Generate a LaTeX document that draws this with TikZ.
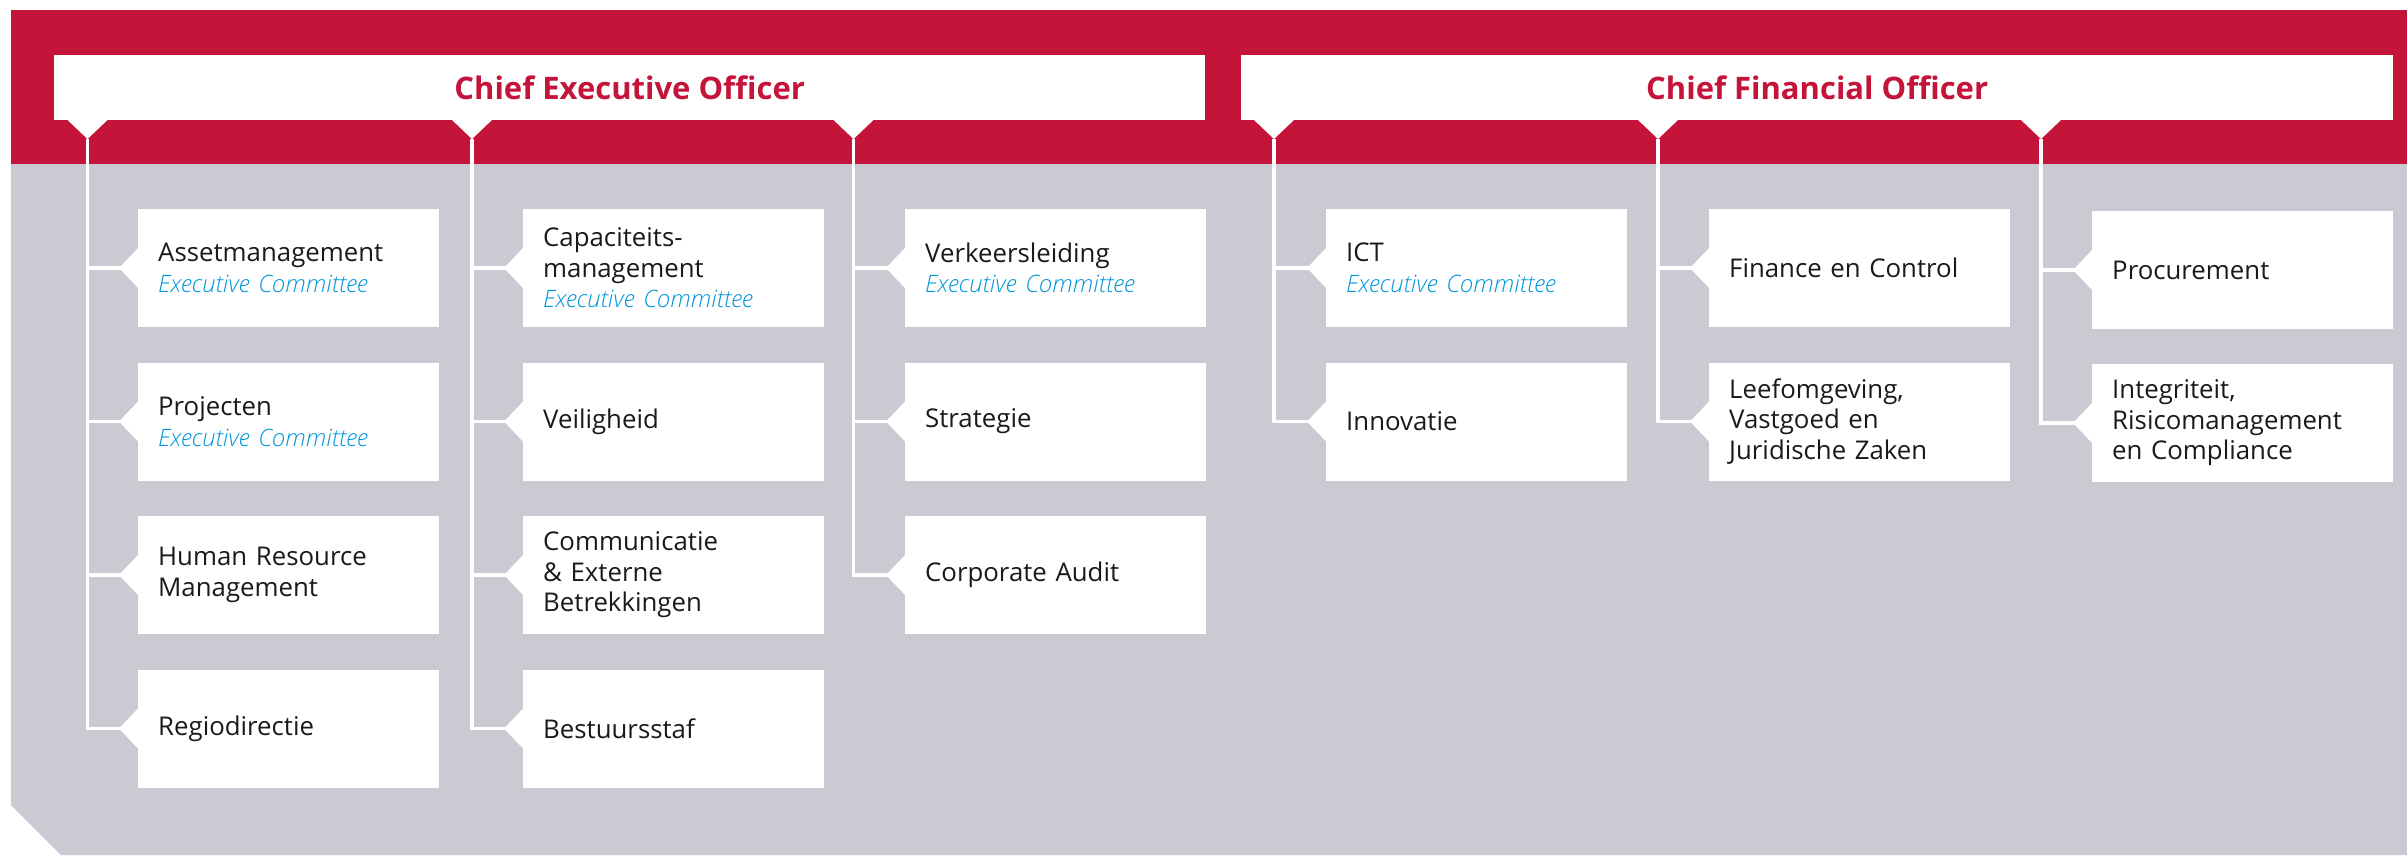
\documentclass[tikz,border=0pt]{standalone}
\usepackage{fontspec}
\setmainfont{Open Sans}
\newfontfamily\eclightfont{Open Sans}[UprightFont={* Light Italic}]
\definecolor{rwsred}{RGB}{197,20,58}
\definecolor{rwsgray}{RGB}{202,202,210}
\definecolor{ecblue}{RGB}{0,150,220}
\definecolor{txtc}{RGB}{26,26,26}
\newcommand\ecline{{\color{ecblue}\eclightfont\fontsize{24}{30.5}\selectfont Executive Committee}}
\tikzset{
  unitbox/.style={fill=white, draw=none, anchor=west, minimum width=301pt, minimum height=118pt,
    text width=261pt, inner xsep=20pt, inner ysep=0pt, align=left,
    font=\fontsize{25.8}{30.5}\selectfont, text=txtc},
  hdr/.style={fill=white, draw=none, anchor=north west, minimum height=65pt, inner sep=0pt,
    font=\fontsize{31}{36}\selectfont\bfseries, text=rwsred},
  conn/.style={draw=white, line width=3.2pt},
  notchfill/.style={fill=white, draw=none}
}
\begin{document}
\begin{tikzpicture}[x=1pt,y=-1pt]
\useasboundingbox (0,0) rectangle (2407,855);
% background bands
\fill[rwsred] (11,10) rectangle (2407,164.5);
\fill[rwsgray] (11,164) -- (2407,164) -- (2407,855) -- (61,855) -- (11,805) -- cycle;
% header boxes
\node[hdr, minimum width=1151pt] (ceo) at (54,55) {Chief Executive Officer};
\node[hdr, minimum width=1152pt] (cfo) at (1241,55) {Chief Financial Officer};
% connector tops (apex of the header notches)
\foreach \n/\x in {t1/87.5, t2/472, t3/853.5, t4/1274, t5/1658, t6/2041}{
  \fill[notchfill] (\x-21,119) -- (\x,139) -- (\x+21,119) -- cycle;
  \coordinate (\n) at (\x,139);
}
% CEO column 1
\node[unitbox] (asset) at (138,268) {Assetmanagement\\\ecline};
\node[unitbox] (proj) at (138,421.5) {Projecten\\\ecline};
\node[unitbox] (hrm) at (138,575) {Human Resource\\Management};
\node[unitbox] (regio) at (138,728.5) {Regiodirectie};
% CEO column 2
\node[unitbox] (capa) at (523,268) {Capaciteits-\\management\\\ecline};
\node[unitbox] (veil) at (523,421.5) {Veiligheid};
\node[unitbox] (comm) at (523,575) {Communicatie\\\& Externe\\Betrekkingen};
\node[unitbox] (best) at (523,728.5) {Bestuursstaf};
% CEO column 3
\node[unitbox] (verk) at (905,268) {Verkeersleiding\\\ecline};
\node[unitbox] (strat) at (905,421.5) {Strategie};
\node[unitbox] (audit) at (905,575) {Corporate Audit};
% CFO column 1
\node[unitbox] (ict) at (1326,268) {ICT\\\ecline};
\node[unitbox] (inno) at (1326,421.5) {Innovatie};
% CFO column 2
\node[unitbox] (fin) at (1709,268) {Finance en Control};
\node[unitbox] (leef) at (1709,421.5) {Leefomgeving,\\Vastgoed en\\Juridische Zaken};
% CFO column 3
\node[unitbox] (proc) at (2092,270) {Procurement};
\node[unitbox] (integ) at (2092,423) {Integriteit,\\Risicomanagement\\en Compliance};
% connectors
\foreach \t/\b in {t1/asset, t1/proj, t1/hrm, t1/regio,
                   t2/capa, t2/veil, t2/comm, t2/best,
                   t3/verk, t3/strat, t3/audit,
                   t4/ict, t4/inno,
                   t5/fin, t5/leef,
                   t6/proc, t6/integ}{
  \draw[conn] (\t) |- (\b.west);
  \fill[notchfill] (\b.west) ++(1,21) -- ++(-20,-21) -- ++(20,-21) -- cycle;
}
\end{tikzpicture}
\end{document}
